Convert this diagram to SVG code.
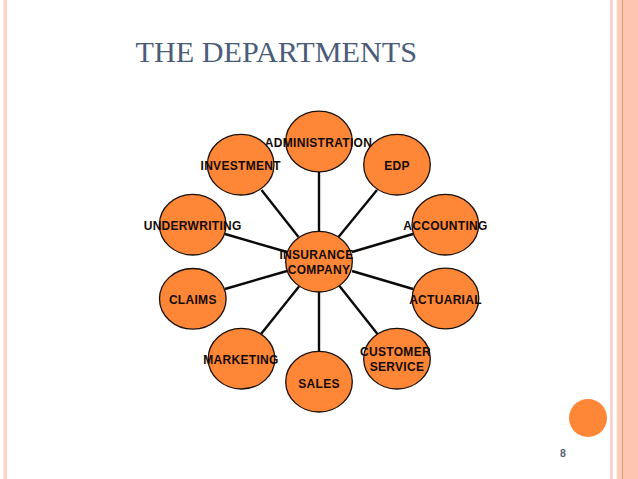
<svg xmlns="http://www.w3.org/2000/svg" width="638" height="479" viewBox="0 0 638 479">
<style>
.n{fill:#fd8637;stroke:#1a1008;stroke-width:1.3}
.t{font-family:"Liberation Sans",Arial,sans-serif;font-weight:700;font-size:12px;fill:#140a05;text-anchor:middle;letter-spacing:.3px}
.c line{stroke:#0a0a0a;stroke-width:2.4}
</style>
<rect width="638" height="479" fill="#fff"/>
<g id="frame">
<rect x="3.5" y="0" width="3.5" height="479" fill="#fcd3c6"/>
<rect x="610" y="0" width="2.800" height="479" fill="#fbd3c6"/>
<rect x="616.800" y="0" width="5.200" height="479" fill="#fccdbd"/>
<rect x="622" y="0" width="1.200" height="479" fill="#ec9468"/>
<rect x="623.200" y="0" width="14.800" height="479" fill="#fec5b1"/>
</g>
<text transform="translate(135.500 61.500) scale(1.06 1)" font-family="'Liberation Serif','Times New Roman',serif" font-size="28.500" fill="#4a5c78">THE DEPARTMENTS</text>
<g class="c" id="connectors">
<line x1="319" y1="172" x2="319" y2="232"/>
<line x1="377" y1="190" x2="338.500" y2="237"/>
<line x1="413" y1="234" x2="352" y2="252"/>
<line x1="413" y1="289" x2="352" y2="271"/>
<line x1="377.500" y1="334" x2="339.500" y2="286"/>
<line x1="319" y1="351" x2="319" y2="292"/>
<line x1="261" y1="334" x2="299" y2="286.500"/>
<line x1="225" y1="289" x2="287" y2="271"/>
<line x1="225" y1="234" x2="287" y2="252"/>
<line x1="261.500" y1="190" x2="298.500" y2="237"/>
</g>
<g id="administration"><ellipse class="n" cx="319" cy="141.500" rx="33.300" ry="30.300"/><text class="t" x="318.500" y="147">ADMINISTRATION</text></g>
<g id="edp"><ellipse class="n" cx="397" cy="164.700" rx="33.300" ry="30.300"/><text class="t" x="397" y="170">EDP</text></g>
<g id="accounting"><ellipse class="n" cx="445.300" cy="224.700" rx="33.300" ry="30.300"/><text class="t" x="445.500" y="230">ACCOUNTING</text></g>
<g id="actuarial"><ellipse class="n" cx="445.500" cy="298.500" rx="33.300" ry="30.300"/><text class="t" x="445.500" y="304">ACTUARIAL</text></g>
<g id="customer-service"><ellipse class="n" cx="397" cy="358.700" rx="33.300" ry="30.300"/><text class="t" x="395.500" y="356">CUSTOMER</text><text class="t" x="397" y="371">SERVICE</text></g>
<g id="sales"><ellipse class="n" cx="319" cy="381.700" rx="33.300" ry="30.300"/><text class="t" x="319" y="387.500">SALES</text></g>
<g id="marketing"><ellipse class="n" cx="241.500" cy="358.700" rx="33.300" ry="30.300"/><text class="t" x="241" y="364">MARKETING</text></g>
<g id="claims"><ellipse class="n" cx="192.800" cy="298.800" rx="33.300" ry="30.300"/><text class="t" x="192.800" y="304">CLAIMS</text></g>
<g id="underwriting"><ellipse class="n" cx="192.700" cy="224.700" rx="33.300" ry="30.300"/><text class="t" x="192.700" y="230">UNDERWRITING</text></g>
<g id="investment"><ellipse class="n" cx="240.700" cy="164.700" rx="33.300" ry="30.300"/><text class="t" x="240.700" y="170">INVESTMENT</text></g>
<g id="insurance-company"><ellipse class="n" cx="319" cy="261.700" rx="33.300" ry="30.300"/><text class="t" x="316.500" y="259">INSURANCE</text><text class="t" x="319" y="274">COMPANY</text></g>
<circle id="accent" cx="588" cy="418" r="19" fill="#fd8637"/>
<text x="563" y="457" font-family="'Liberation Sans',Arial,sans-serif" font-weight="700" font-size="10.500" fill="#5a6478" text-anchor="middle">8</text>
</svg>
